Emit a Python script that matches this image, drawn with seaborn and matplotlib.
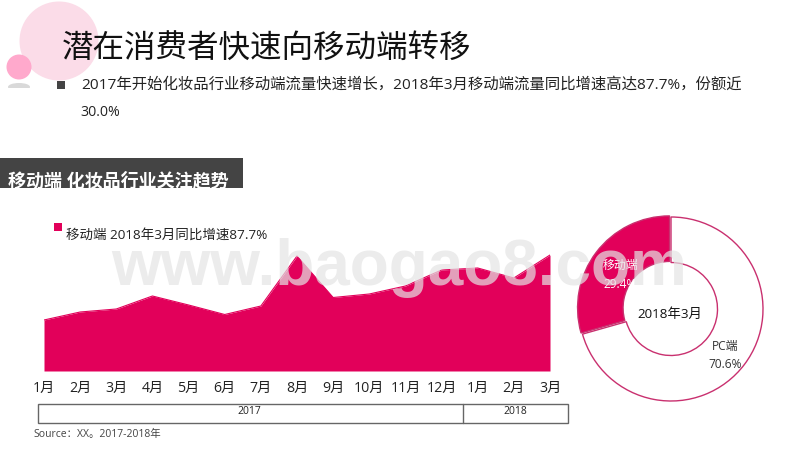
import matplotlib
matplotlib.use("Agg")
import matplotlib.pyplot as plt
from matplotlib.patches import Circle, Ellipse, Rectangle
import pandas as pd
import seaborn as sns

# chart data
months = ["1月", "2月", "3月", "4月", "5月", "6月", "7月", "8月", "9月", "10月", "11月", "12月", "1月", "2月", "3月"]
mobile_index = [51, 59, 62, 75, 66, 56.5, 65, 115, 73.5, 77, 85, 101, 103, 93, 116]
share_labels = ["PC端", "移动端"]
share_values = [70.6, 29.4]
years = ["2017", "2018"]

title = "潜在消费者快速向移动端转移"
bullet_1 = "2017年开始化妆品行业移动端流量快速增长，2018年3月移动端流量同比增速高达87.7%，份额近"
bullet_2 = "30.0%"
band_title = "移动端 化妆品行业关注趋势"
legend_text = "移动端 2018年3月同比增速87.7%"
source_text = "Source：XX。2017-2018年"

PINK = "#e2005a"
DARK = "#444444"

sns.set_theme(style="white")
plt.rcParams["font.family"] = ["Open Sans", "Noto Sans CJK SC"]

fig = plt.figure(figsize=(8, 4.5), dpi=100, facecolor="white")


def px_axes(left, top, right, bottom, **kw):
    return fig.add_axes([left / 800, 1 - bottom / 450, (right - left) / 800, (bottom - top) / 450], **kw)


# background layer in pixel coordinates
bg = fig.add_axes([0, 0, 1, 1])
bg.set_xlim(0, 800)
bg.set_ylim(450, 0)
bg.axis("off")

bg.add_patch(Circle((59, 41), 39.5, color="#fbdce8", lw=0))
bg.add_patch(Ellipse((19, 87), 22, 8, color="#d9d9d9", lw=0))
bg.add_patch(Rectangle((5, 88), 30, 8, color="white", lw=0))
bg.add_patch(Circle((19, 67), 12.5, color="#ffa9cc", lw=0))

bg.text(62, 49, title, fontsize=22.7, color="#111111", va="center", ha="left")
bg.add_patch(Rectangle((57, 81), 8, 8, color=DARK, lw=0))
bg.text(81, 85, bullet_1, fontsize=11.1, color="#222222", va="center", ha="left")
bg.text(80, 113, bullet_2, fontsize=10.2, color="#222222", va="center", ha="left")

band = Rectangle((0, 158), 243, 30, color=DARK, lw=0)
bg.add_patch(band)
band_txt = bg.text(8, 181, band_title, fontsize=13, color="white", weight="bold", va="center", ha="left")
band_txt.set_clip_path(band)

bg.add_patch(Rectangle((54, 223), 8, 8, color=PINK, lw=0))
bg.text(66, 235, legend_text, fontsize=9.7, color="#222222", va="center", ha="left")

# area chart
df = pd.DataFrame({"pos": range(len(months)), "value": mobile_index})
ax = px_axes(44, 241, 550, 371)
ax.patch.set_alpha(0)
sns.lineplot(data=df, x="pos", y="value", color=PINK, lw=0.8, ax=ax)
ax.fill_between(df["pos"], df["value"], 0, color=PINK, lw=0)
ax.set_xlim(0, len(months) - 1)
ax.set_ylim(0, 130)
ax.set_xlabel("")
ax.set_ylabel("")
ax.set_yticks([])
ax.set_xticks(df["pos"])
ax.set_xticklabels(months, fontsize=10.2, color="#222222")
ax.tick_params(axis="x", length=0, pad=7)
sns.despine(ax=ax, left=True, bottom=True)

# year bracket
bg.add_patch(Rectangle((38, 404), 530, 19, fill=False, ec="#666666", lw=1))
bg.plot([463, 463], [404, 423], color="#666666", lw=1)
bg.text(249, 412, years[0], fontsize=7.5, color="#222222", ha="center", va="center")
bg.text(515, 412, years[1], fontsize=7.5, color="#222222", ha="center", va="center")
bg.text(33, 435, source_text, fontsize=7.5, color="#444444", ha="left", va="center")

# donut
pie_ax = px_axes(571, 209, 771, 409)
pie_ax.pie(share_values, colors=["white", PINK], startangle=90, counterclock=False,
           explode=[0, 0.018], radius=0.92,
           wedgeprops=dict(width=0.455, edgecolor="#c9306f", linewidth=1))
pie_ax.set_xlim(-1, 1)
pie_ax.set_ylim(-1, 1)
pie_ax.set_aspect("equal")

top = fig.add_axes([0, 0, 1, 1], zorder=10)
top.set_xlim(0, 800)
top.set_ylim(450, 0)
top.axis("off")

top.text(670, 314, "2018年3月", fontsize=9.6, color="#111111", ha="center", va="center")
top.text(620, 265, share_labels[1], fontsize=8.6, color="white", ha="center", va="center")
top.text(620, 284, f"{share_values[1]}%", fontsize=8.6, color="white", ha="center", va="center")
top.text(725, 346, share_labels[0], fontsize=8.6, color="#333333", ha="center", va="center")
top.text(725, 365, f"{share_values[0]}%", fontsize=8.6, color="#333333", ha="center", va="center")

# watermark
top.text(399, 268, "www.baogao8.com", fontsize=46, family="Liberation Sans", weight="bold",
         color="#e4e4e4", alpha=0.7, ha="center", va="center")

fig.savefig("out.png", dpi=100)
